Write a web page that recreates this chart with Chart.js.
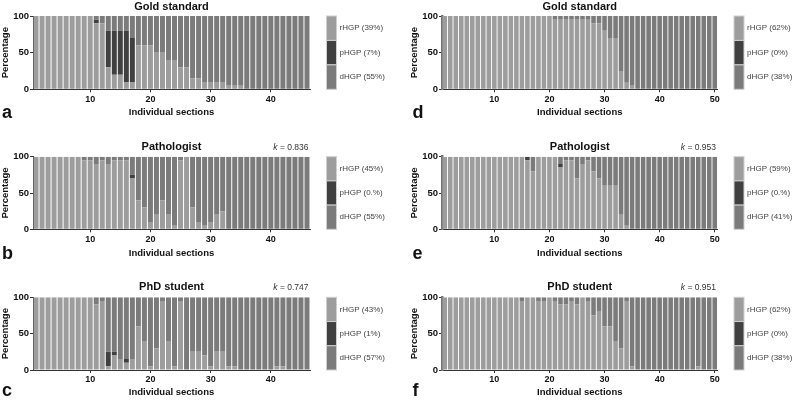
<!DOCTYPE html>
<html>
<head>
<meta charset="utf-8">
<script src="https://cdn.jsdelivr.net/npm/chart.js@4.4.1/dist/chart.umd.min.js"></script>
<style>
body { margin: 0; background: #fff; }
#wrap { position: relative; width: 793px; height: 403px; overflow: hidden; }
#wrap canvas { position: absolute; }
</style>
</head>
<body>
<div id="wrap"></div>
<script>
// Section numbers
const sections46 = Array.from({ length: 46 }, (_, i) => String(i + 1));
const sections50 = Array.from({ length: 50 }, (_, i) => String(i + 1));
const seriesNames = ['rHGP', 'pHGP', 'dHGP'];

// a - Gold standard (left)
const rA = [100,100,100,100,100,100,100,100,100,100, 90,90,30,20,20,10,10,60,60,60, 50,50,40,40,30,30,15,15,10,10, 10,10,5,5,5,0,0,0,0,0, 0,0,0,0,0,0];
const pA = [0,0,0,0,0,0,0,0,0,0, 5,0,50,60,60,70,60,0,0,0, 0,0,0,0,0,0,0,0,0,0, 0,0,0,0,0,0,0,0,0,0, 0,0,0,0,0,0];
const dA = [0,0,0,0,0,0,0,0,0,0, 5,10,20,20,20,20,30,40,40,40, 50,50,60,60,70,70,85,85,90,90, 90,90,95,95,95,100,100,100,100,100, 100,100,100,100,100,100];
const legendA = ['39%', '7%', '55%'];

// b - Pathologist (left)
const rB = [100,100,100,100,100,100,100,100,95,95, 90,95,90,95,95,95,70,40,30,10, 20,40,20,5,95,100,30,10,5,10, 20,25,0,0,0,0,0,0,0,0, 0,0,0,0,0,0];
const pB = [0,0,0,0,0,0,0,0,0,0, 0,0,0,0,0,0,5,0,0,0, 0,0,0,0,0,0,0,0,0,0, 0,0,0,0,0,0,0,0,0,0, 0,0,0,0,0,0];
const dB = [0,0,0,0,0,0,0,0,5,5, 10,5,10,5,5,5,25,60,70,90, 80,60,80,95,5,0,70,90,95,90, 80,75,100,100,100,100,100,100,100,100, 100,100,100,100,100,100];
const legendB = ['45%', '0.%', '55%'];

// c - PhD student (left)
const rC = [100,100,100,100,100,100,100,100,100,100, 90,95,5,20,15,10,15,60,40,5, 30,95,40,5,95,0,25,25,20,5, 25,25,5,5,0,0,0,0,0,0, 5,5,0,0,0,0];
const pC = [0,0,0,0,0,0,0,0,0,0, 0,0,20,5,0,5,0,0,0,0, 0,0,0,0,0,0,0,0,0,0, 0,0,0,0,0,0,0,0,0,0, 0,0,0,0,0,0];
const dC = [0,0,0,0,0,0,0,0,0,0, 10,5,75,75,85,85,85,40,60,95, 70,5,60,95,5,100,75,75,80,95, 75,75,95,95,100,100,100,100,100,100, 95,95,100,100,100,100];
const legendC = ['43%', '1%', '57%'];

// d - Gold standard (right)
const rD = [100,100,100,100,100,100,100,100,100,100, 100,100,100,100,100,100,100,100,100,100, 95,95,95,95,95,95,95,90,90,80, 70,70,25,10,5,0,0,0,0,0, 0,0,0,0,0,0,0,0,0,0];
const pD = [0,0,0,0,0,0,0,0,0,0, 0,0,0,0,0,0,0,0,0,0, 0,0,0,0,0,0,0,0,0,0, 0,0,0,0,0,0,0,0,0,0, 0,0,0,0,0,0,0,0,0,0];
const dD = [0,0,0,0,0,0,0,0,0,0, 0,0,0,0,0,0,0,0,0,0, 5,5,5,5,5,5,5,10,10,20, 30,30,75,90,95,100,100,100,100,100, 100,100,100,100,100,100,100,100,100,100];
const legendD = ['62%', '0%', '38%'];

// e - Pathologist (right)
const rE = [100,100,100,100,100,100,100,100,100,100, 100,100,100,100,100,95,80,100,100,100, 100,85,95,95,70,90,95,80,70,60, 60,60,20,5,0,0,0,0,0,0, 0,0,0,0,0,0,0,0,0,0];
const pE = [0,0,0,0,0,0,0,0,0,0, 0,0,0,0,0,5,0,0,0,0, 0,5,0,0,0,0,0,0,0,0, 0,0,0,0,0,0,0,0,0,0, 0,0,0,0,0,0,0,0,0,0];
const dE = [0,0,0,0,0,0,0,0,0,0, 0,0,0,0,0,0,20,0,0,0, 0,10,5,5,30,10,5,20,30,40, 40,40,80,95,100,100,100,100,100,100, 100,100,100,100,100,100,100,100,100,100];
const legendE = ['59%', '0.%', '41%'];

// f - PhD student (right)
const rF = [100,100,100,100,100,100,100,100,100,100, 100,100,100,100,95,100,100,95,95,100, 95,90,90,95,90,100,95,75,80,60, 60,40,30,95,5,0,0,0,0,0, 0,0,0,0,0,0,5,0,0,0];
const pF = [0,0,0,0,0,0,0,0,0,0, 0,0,0,0,0,0,0,0,0,0, 0,0,0,0,0,0,0,0,0,0, 0,0,0,0,0,0,0,0,0,0, 0,0,0,0,0,0,0,0,0,0];
const dF = [0,0,0,0,0,0,0,0,0,0, 0,0,0,0,5,0,0,5,5,0, 5,10,10,5,10,0,5,25,20,40, 40,60,70,5,95,100,100,100,100,100, 100,100,100,100,100,100,95,100,100,100];
const legendF = ['62%', '0%', '38%'];

const colors = ['#9d9d9d', '#404040', '#7b7b7b'];
const FONT = '"Liberation Sans", Arial, Helvetica, sans-serif';

const panels = [
    { letter: 'a', title: 'Gold standard', k: null,    labels: sections46, r: rA, p: pA, d: dA, legend: legendA, col: 0, row: 0 },
    { letter: 'b', title: 'Pathologist',   k: '0.836', labels: sections46, r: rB, p: pB, d: dB, legend: legendB, col: 0, row: 1 },
    { letter: 'c', title: 'PhD student',   k: '0.747', labels: sections46, r: rC, p: pC, d: dC, legend: legendC, col: 0, row: 2 },
    { letter: 'd', title: 'Gold standard', k: null,    labels: sections50, r: rD, p: pD, d: dD, legend: legendD, col: 1, row: 0 },
    { letter: 'e', title: 'Pathologist',   k: '0.953', labels: sections50, r: rE, p: pE, d: dE, legend: legendE, col: 1, row: 1 },
    { letter: 'f', title: 'PhD student',   k: '0.951', labels: sections50, r: rF, p: pF, d: dF, legend: legendF, col: 1, row: 2 }
];

// page geometry
const cols = [
    { x: 0,   w: 400, padL: 0, areaL: 33,  areaR: 310,   letterX: 2,     yBorder: 1,   yBorderColor: '#333' },
    { x: 400, w: 393, padL: 9, areaL: 442, areaR: 717.5, letterX: 412.5, yBorder: 2.5, yBorderColor: '#777' }
];
const rows = [
    { y: 0,   h: 130, areaT: 16,    areaB: 89.3,  titleY: 6.5,   xTitleY: 112.7, letterY: 118.3 },
    { y: 130, h: 130, areaT: 156.7, areaB: 229.3, titleY: 146.8, xTitleY: 253.3, letterY: 258.8 },
    { y: 260, h: 143, areaT: 297.3, areaB: 370,   titleY: 287,   xTitleY: 392.7, letterY: 396.3 }
];

const decoPlugin = {
    id: 'panelDeco',
    afterDraw(chart, args, opts) {
        const ctx = chart.ctx;
        const area = chart.chartArea;
        ctx.save();
        // panel title
        ctx.fillStyle = '#111';
        ctx.font = 'bold 11px ' + FONT;
        ctx.textAlign = 'center';
        ctx.textBaseline = 'middle';
        ctx.fillText(opts.title, (area.left + area.right) / 2, opts.titleY);
        // kappa
        if (opts.k) {
            ctx.textAlign = 'right';
            ctx.fillStyle = '#333';
            ctx.font = '8.5px ' + FONT;
            const rest = ' = ' + opts.k;
            const restW = ctx.measureText(rest).width;
            ctx.fillText(rest, area.right - 1.5, opts.titleY + 0.5);
            ctx.font = 'italic 8.5px ' + FONT;
            ctx.fillText('k', area.right - 1.5 - restW, opts.titleY + 0.5);
        }
        // panel letter
        ctx.fillStyle = '#111';
        ctx.font = 'bold 18px ' + FONT;
        ctx.textAlign = 'left';
        ctx.textBaseline = 'alphabetic';
        ctx.fillText(opts.letter, opts.letterX, opts.letterY);
        // legend boxes
        const bx = area.right + 16.5, bw = 10;
        const bh = (area.bottom - area.top) / 3;
        chart.data.datasets.forEach((ds, i) => {
            const y0 = area.top + i * bh;
            ctx.fillStyle = ds.backgroundColor;
            ctx.fillRect(bx, y0, bw, bh);
            ctx.strokeStyle = '#cfcfcf';
            ctx.lineWidth = 1;
            ctx.strokeRect(bx, y0, bw, bh);
            ctx.fillStyle = '#444';
            ctx.font = '8px ' + FONT;
            ctx.textBaseline = 'middle';
            ctx.fillText(ds.label + ' (' + opts.legend[i] + ')', bx + bw + 3, y0 + bh / 2);
        });
        ctx.restore();
    }
};

const wrap = document.getElementById('wrap');

panels.forEach(pn => {
    const c = cols[pn.col], rw = rows[pn.row];
    const canvas = document.createElement('canvas');
    canvas.width = c.w;
    canvas.height = rw.h;
    canvas.style.left = c.x + 'px';
    canvas.style.top = rw.y + 'px';
    wrap.appendChild(canvas);

    const yWidth = c.areaL - c.x - c.padL;
    const xHeight = rw.y + rw.h - rw.areaB;
    const xTitlePad = rw.y + rw.h - rw.xTitleY - 5.7;

    new Chart(canvas.getContext('2d'), {
        type: 'bar',
        data: {
            labels: pn.labels,
            datasets: [pn.r, pn.p, pn.d].map((vals, i) => ({
                label: seriesNames[i],
                data: vals,
                backgroundColor: colors[i],
                borderWidth: 0,
                barPercentage: 0.83,
                categoryPercentage: 1
            }))
        },
        options: {
            responsive: false,
            animation: false,
            devicePixelRatio: 1,
            layout: {
                padding: { left: c.padL, right: c.x + c.w - c.areaR, top: rw.areaT - rw.y, bottom: 0 }
            },
            plugins: {
                legend: { display: false },
                tooltip: { enabled: false },
                panelDeco: {
                    title: pn.title, k: pn.k, letter: pn.letter, legend: pn.legend,
                    titleY: rw.titleY - rw.y, letterX: c.letterX - c.x, letterY: rw.letterY - rw.y
                }
            },
            scales: {
                x: {
                    stacked: true,
                    afterFit: s => { s.height = xHeight; },
                    grid: {
                        offset: false,
                        drawOnChartArea: false,
                        drawTicks: true,
                        tickLength: 3,
                        color: ctx => ((ctx.index + 1) % 10 === 0 ? '#333' : 'rgba(0,0,0,0)')
                    },
                    border: { display: true, color: '#333', width: 1 },
                    ticks: {
                        autoSkip: false,
                        maxRotation: 0,
                        padding: 1.5,
                        color: '#111',
                        font: { family: FONT, size: 9, weight: 'bold' },
                        callback: function (v, i) { return (i + 1) % 10 === 0 ? String(i + 1) : ''; }
                    },
                    title: {
                        display: true,
                        text: 'Individual sections',
                        color: '#111',
                        font: { family: FONT, size: 9.5, weight: 'bold', lineHeight: 1.2 },
                        padding: { top: 0, bottom: xTitlePad }
                    }
                },
                y: {
                    stacked: true,
                    min: 0,
                    max: 100,
                    afterFit: s => { s.width = yWidth; },
                    grid: { drawOnChartArea: false, drawTicks: true, tickLength: 3, color: '#333' },
                    border: { display: true, color: c.yBorderColor, width: c.yBorder },
                    ticks: {
                        stepSize: 50,
                        padding: 1,
                        color: '#111',
                        font: { family: FONT, size: 9.5, weight: 'bold' }
                    },
                    title: {
                        display: true,
                        text: 'Percentage',
                        color: '#111',
                        font: { family: FONT, size: 9.5, weight: 'bold', lineHeight: 1.2 },
                        padding: { top: 0, bottom: 0 }
                    }
                }
            }
        },
        plugins: [decoPlugin]
    });
});
</script>
</body>
</html>
